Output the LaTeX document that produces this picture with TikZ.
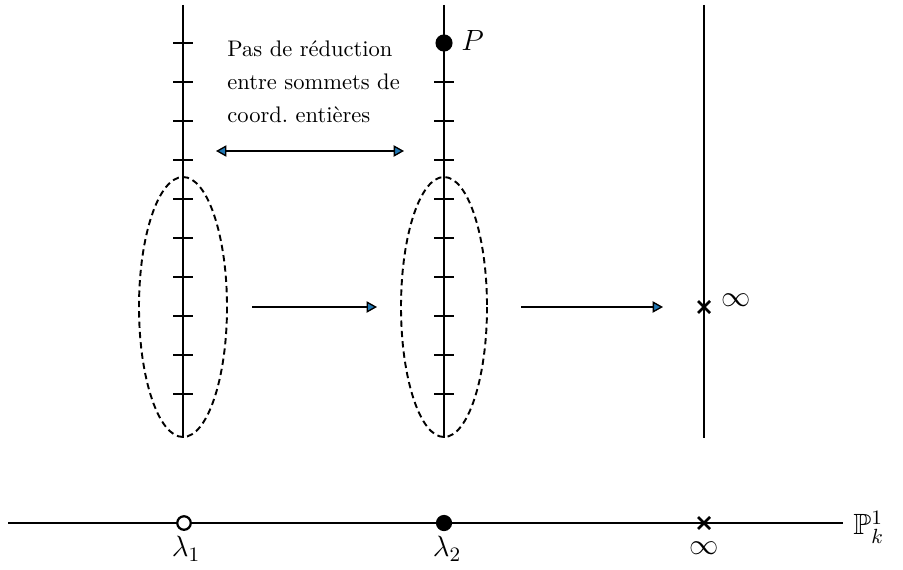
\RequirePackage{fix-cm}
\documentclass[tikz,border=0pt]{standalone}
\usepackage{amssymb}
\usetikzlibrary{arrows.meta}
\definecolor{tipblue}{RGB}{31,119,180}
\tikzset{
  axisline/.style={line width=1.15pt},
  tickmark/.style={line width=1.0pt},
  oval/.style={line width=0.85pt, dash pattern=on 2.8pt off 1.8pt},
  maparrow/.style={line width=1.0pt, -{Triangle[length=4.6pt,width=5pt,fill=tipblue,line width=0.6pt]}},
  botharrow/.style={line width=1.0pt, {Triangle[length=4.6pt,width=5pt,fill=tipblue,line width=0.6pt]}-{Triangle[length=4.6pt,width=5pt,fill=tipblue,line width=0.6pt]}},
  fulldot/.style={circle, fill=black, inner sep=0pt},
  opendot/.style={circle, draw=black, fill=white, line width=1.0pt, inner sep=0pt, minimum size=6pt},
  crossmark/.style={line width=1.2pt},
  mathlabel/.style={inner sep=0pt, font=\fontsize{13}{16}\selectfont},
}
\begin{document}
\begin{tikzpicture}[x=0.444pt, y=-0.444pt]
\useasboundingbox (0,0) rectangle (903,569);

% vertical lines
\coordinate (L1top) at (183,5);   \coordinate (L1bot) at (183,438);
\coordinate (L2top) at (444,5);   \coordinate (L2bot) at (444,438);
\coordinate (L3top) at (704,5);   \coordinate (L3bot) at (704,438);
\draw[axisline] (L1top) -- (L1bot);
\draw[axisline] (L2top) -- (L2bot);
\draw[axisline] (L3top) -- (L3bot);

% ticks
\foreach \yy in {43,82,121,160,199,238,277,316,355,394}
  \draw[tickmark] (173,\yy) -- (193,\yy);
\foreach \yy in {82,121,160,199,238,277,316,355,394}
  \draw[tickmark] (434,\yy) -- (454,\yy);

% dashed ellipses
\draw[oval] (183,307) ellipse [x radius=44, y radius=130];
\draw[oval] (444,307) ellipse [x radius=43, y radius=130];

% point P
\node[fulldot, minimum size=7.6pt] (P) at (444,43) {};
\node[mathlabel, anchor=west] (Plab) at (461,40) {$P$};

% infinity on third line
\coordinate (X1) at (704,307);
\draw[crossmark] ([shift={(-6,-6)}]X1) -- ([shift={(6,6)}]X1);
\draw[crossmark] ([shift={(-6,6)}]X1) -- ([shift={(6,-6)}]X1);
\node[mathlabel, anchor=west] (inf1) at (721,300) {$\infty$};

% text and double arrow
\node[anchor=north west, inner sep=0pt, align=left,
      font=\fontsize{10}{14.7}\selectfont] (txt) at (227,40)
  {Pas de réduction\\entre sommets de\\coord.\ entières};
\coordinate (DA1) at (216,151); \coordinate (DA2) at (404,151);
\draw[botharrow] (DA1) -- (DA2);

% horizontal maps
\coordinate (A1s) at (252,307); \coordinate (A1e) at (377,307);
\coordinate (A2s) at (521,307); \coordinate (A2e) at (663,307);
\draw[maparrow] (A1s) -- (A1e);
\draw[maparrow] (A2s) -- (A2e);

% bottom line P^1_k
\coordinate (B0) at (8,523); \coordinate (B1) at (843,523);
\draw[axisline] (B0) -- (B1);
\node[opendot] (lam1) at (184,523) {};
\node[fulldot, minimum size=7.2pt] (lam2) at (444,523) {};
\coordinate (X2) at (704,523);
\draw[crossmark] ([shift={(-6,-6)}]X2) -- ([shift={(6,6)}]X2);
\draw[crossmark] ([shift={(-6,6)}]X2) -- ([shift={(6,-6)}]X2);
\node[mathlabel, anchor=north] (lab1) at (186,536) {$\lambda_1$};
\node[mathlabel, anchor=north] (lab2) at (447,536) {$\lambda_2$};
\node[mathlabel, anchor=north] (lab3) at (704,541) {$\infty$};
\node[mathlabel, anchor=west] (P1k) at (853,527) {$\mathbb{P}^1_k$};
\end{tikzpicture}
\end{document}
